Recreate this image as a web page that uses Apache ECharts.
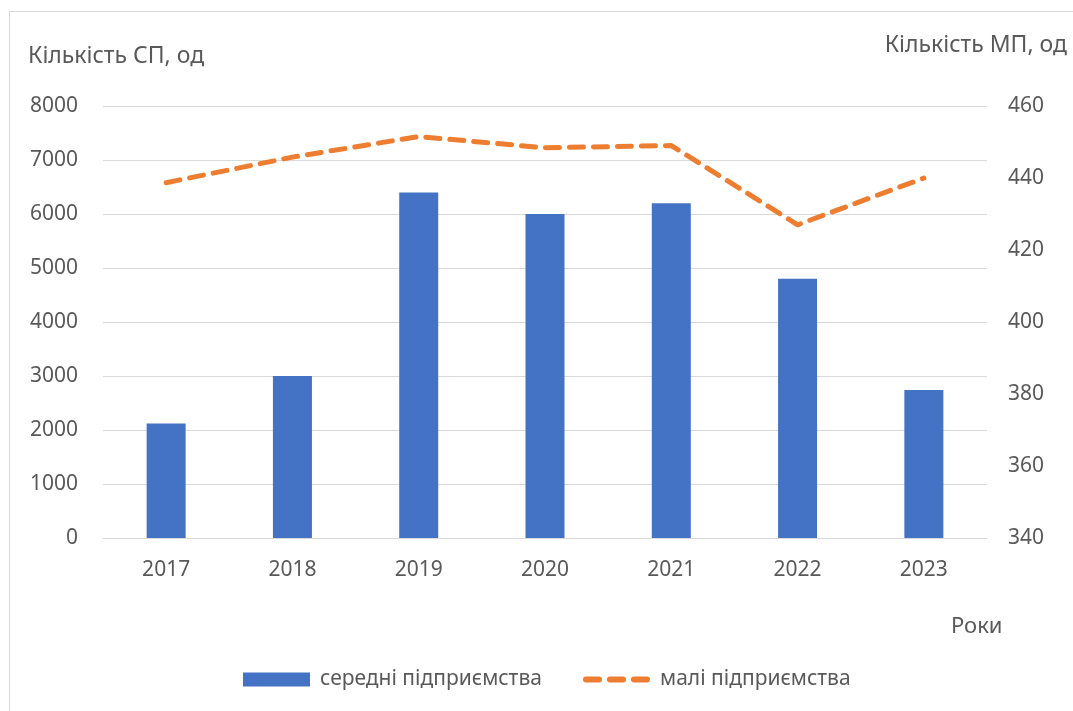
<!DOCTYPE html>
<html>
<head>
<meta charset="utf-8">
<script src="https://cdn.jsdelivr.net/npm/echarts@6/dist/echarts.min.js"></script>
<style>
	html, body { margin: 0; padding: 0; background: #fff; }
	#main { width: 1073px; height: 711px; }
</style>
</head>
<body>
<div id="main"></div>
<script>
	// роки
	const years = ['2017', '2018', '2019', '2020', '2021', '2022', '2023']
	// середні підприємства, од (ліва вісь)
	const mediumFirms = [2120, 3000, 6400, 6000, 6200, 4800, 2740]
	// малі підприємства, од (права вісь)
	const smallFirms = [438.7, 445.8, 451.5, 448.4, 449, 427, 440]

	const seriesNames = ['середні підприємства', 'малі підприємства']
	const leftTitle = 'Кількість СП, од'
	const rightTitle = 'Кількість МП, од'
	const xTitle = 'Роки'

	const textColor = '#595959'
	const font = '"Noto Sans", "Open Sans", sans-serif'
	const orange = '#ED7D31'
	const blue = '#4472C4'

	// три пунктирні штрихи для легенди лінії
	const dashIcon = 'path://' +
		'M3 0H16A3 3 0 0 1 16 6H3A3 3 0 0 1 3 0Z' +
		'M27 0H40A3 3 0 0 1 40 6H27A3 3 0 0 1 27 0Z' +
		'M51 0H64A3 3 0 0 1 64 6H51A3 3 0 0 1 51 0Z'

	const chart = echarts.init(document.getElementById('main'))

	chart.setOption({
		animation: false,
		textStyle: { fontFamily: font },
		grid: {
			left: 103,
			right: 86,
			top: 106,
			bottom: 173,
			containLabel: false
		},
		legend: [
			{
				left: 238,
				top: 664,
				itemWidth: 67,
				itemHeight: 14,
				textStyle: { color: textColor, fontSize: 21, fontFamily: font, padding: [0, 0, 0, 5] },
				data: [{ name: seriesNames[0], icon: 'rect' }]
			},
			{
				left: 578,
				top: 664,
				itemWidth: 67,
				itemHeight: 6,
				textStyle: { color: textColor, fontSize: 21, fontFamily: font, padding: [0, 0, 0, 5] },
				data: [{ name: seriesNames[1], icon: dashIcon, itemStyle: { color: orange } }]
			}
		],
		graphic: [
			{
				// рамка області діаграми
				type: 'rect',
				silent: true,
				shape: { x: 9.5, y: 11.5, width: 1200, height: 800 },
				style: { fill: 'none', stroke: '#d9d9d9', lineWidth: 1 }
			},
			{
				type: 'text',
				left: 28,
				top: 45,
				style: { text: leftTitle, fill: textColor, font: '23px ' + font }
			},
			{
				type: 'text',
				right: 6,
				top: 34,
				style: { text: rightTitle, fill: textColor, font: '23px ' + font }
			},
			{
				type: 'text',
				left: 951,
				top: 616,
				style: { text: xTitle, fill: textColor, font: '22px ' + font }
			}
		],
		xAxis: {
			type: 'category',
			data: years,
			axisLine: { lineStyle: { color: '#d9d9d9', width: 1 } },
			axisTick: { show: false },
			axisLabel: { color: textColor, fontSize: 21, margin: 22 }
		},
		yAxis: [
			{
				type: 'value',
				min: 0,
				max: 8000,
				interval: 1000,
				axisLine: { show: false },
				axisTick: { show: false },
				axisLabel: { color: textColor, fontSize: 21, margin: 25, formatter: v => String(v) },
				splitLine: { lineStyle: { color: '#d9d9d9', width: 1 } }
			},
			{
				type: 'value',
				min: 340,
				max: 460,
				interval: 20,
				axisLine: { show: false },
				axisTick: { show: false },
				axisLabel: { color: textColor, fontSize: 21, margin: 21, formatter: v => String(v) },
				splitLine: { show: false }
			}
		],
		series: [
			{
				name: seriesNames[0],
				type: 'bar',
				yAxisIndex: 0,
				barWidth: 39,
				itemStyle: { color: blue },
				data: mediumFirms
			},
			{
				name: seriesNames[1],
				type: 'line',
				yAxisIndex: 1,
				symbol: 'none',
				lineStyle: {
					color: orange,
					width: 5,
					type: [14, 10],
					cap: 'round',
					join: 'round'
				},
				itemStyle: { color: orange },
				data: smallFirms
			}
		]
	})
</script>
</body>
</html>
